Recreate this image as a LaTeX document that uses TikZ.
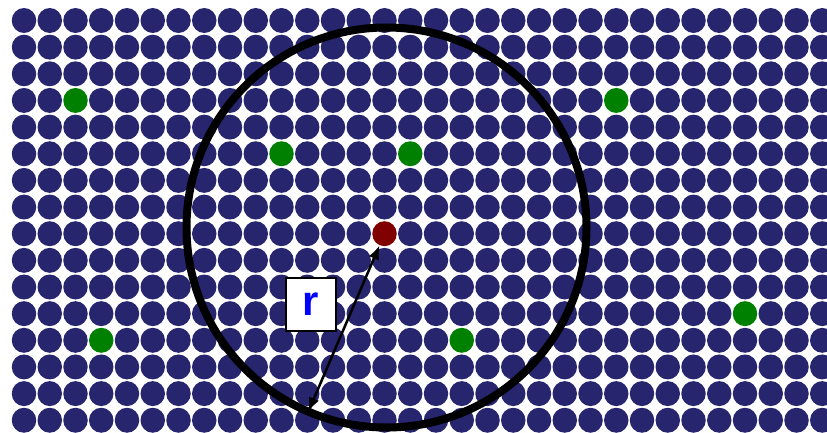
\documentclass[tikz,border=0pt]{standalone}
\usepackage{fontspec}
\setsansfont{Liberation Sans}
\usetikzlibrary{arrows.meta,shapes.geometric}
\definecolor{navy}{RGB}{38,37,110}
\definecolor{hit}{RGB}{0,128,0}
\definecolor{srcred}{RGB}{128,0,0}
\tikzset{
  dot/.style={ellipse, fill=navy, minimum width=24.5pt, minimum height=25pt, inner sep=0pt},
  % coloured dots, by column-row
  c2-3/.style={fill=hit}, c23-3/.style={fill=hit},
  c10-5/.style={fill=hit}, c15-5/.style={fill=hit},
  c28-11/.style={fill=hit},
  c3-12/.style={fill=hit}, c17-12/.style={fill=hit},
  c14-8/.style={fill=srcred},
  ring/.style={draw, circle, line width=8pt, minimum size=400pt, outer sep=0pt},
  lbl/.style={draw, fill=white, line width=2pt, minimum width=50pt, minimum height=53pt,
    font=\sffamily\bfseries\fontsize{42}{42}\selectfont, text=blue},
  arr/.style={{Latex[length=14pt,width=11pt]}-{Latex[length=14pt,width=11pt]}, line width=2.5pt},
}
\begin{document}
\begin{tikzpicture}[x=1pt, y=-1pt]
\useasboundingbox (0,0) rectangle (827,433);
\foreach \i in {0,...,31}
  \foreach \j in {0,...,15}
    \node[dot, c\i-\j/.try] (d-\i-\j) at (24+25.75*\i, 20.5+26.65*\j) {};
\node[ring] (range) at (386.5,227.5) {};
\node[lbl] (rlabel) at (311,304.5) {r};
\draw[arr] (d-14-8) -- (range.247);
\end{tikzpicture}
\end{document}
